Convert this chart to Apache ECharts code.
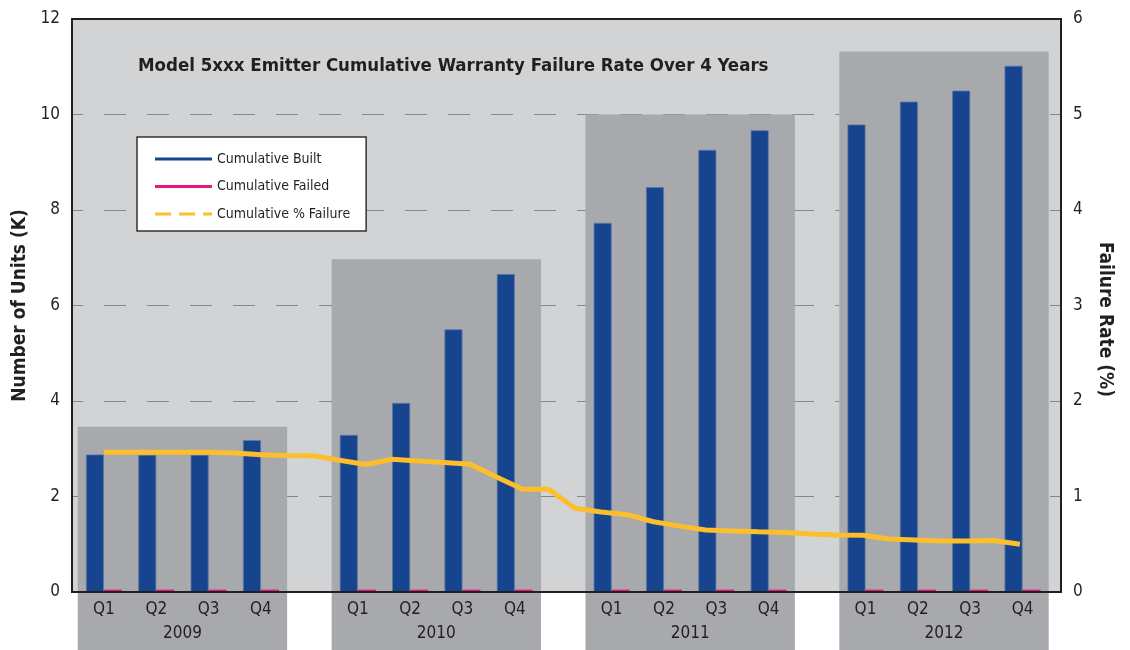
<!DOCTYPE html>
<html lang="en">
<head>
    <meta charset="UTF-8"/>
    <title>Emitter Warranty Failure Rate</title>
    <script src="https://cdn.jsdelivr.net/npm/echarts@6/dist/echarts.min.js"></script>
    <style>
        body { margin: 0; background: #fff; }
    </style>
</head>
<body>
<div id="main" style="width: 1130px; height: 650px;"></div>
<script type="text/javascript">
    // values
    var quarters = ['Q1', 'Q2', 'Q3', 'Q4'];
    var years = ['2009', '2010', '2011', '2012'];
    var built = [2.88, 2.87, 2.87, 3.18, 3.29, 3.96, 5.50, 6.66, 7.73, 8.48, 9.26, 9.67, 9.79, 10.27, 10.50, 11.02];
    var failed = [0.05, 0.05, 0.05, 0.05, 0.05, 0.05, 0.05, 0.05, 0.05, 0.05, 0.05, 0.05, 0.05, 0.05, 0.05, 0.05];
    var yearBoxTop = [3.46, 6.97, 10.0, 11.32];
    var failurePct = [1.463, 1.463, 1.463, 1.463, 1.463, 1.455, 1.437, 1.43, 1.427, 1.38, 1.335, 1.39,
        1.372, 1.356, 1.337, 1.205, 1.075, 1.075, 0.876, 0.838, 0.81, 0.736, 0.69, 0.65,
        0.64, 0.63, 0.623, 0.607, 0.597, 0.595, 0.555, 0.545, 0.535, 0.535, 0.54, 0.50];

    var FONT = "'Liberation Sans Narrow', 'DejaVu Sans Condensed', sans-serif";
    var TEXT = '#231f20';
    var BLUE = '#16448e';
    var PINK = '#e8197d';
    var YELLOW = '#fdbe2c';

    // x axis is in half-quarter steps (the failure line is sampled at that rate)
    var YEAR_STEP = 9.7, QUARTER_STEP = 2;
    function slotX(y, q) { return y * YEAR_STEP + q * QUARTER_STEP; }

    var builtData = [], failedData = [];
    for (var i = 0; i < built.length; i++) {
        var x = slotX(Math.floor(i / 4), i % 4);
        builtData.push([x, built[i]]);
        failedData.push([x, failed[i]]);
    }
    var boxData = years.map(function (yr, y) {
        return [slotX(y, 0) - 1, slotX(y, 3) + 1, yearBoxTop[y], y];
    });
    var lineData = failurePct.map(function (v, k) { return [k, v]; });

    function renderYearBox(params, api) {
        var y = api.value(3);
        var p0 = api.coord([api.value(0), api.value(2)]);
        var p1 = api.coord([api.value(1), 0]);
        var children = [{
            type: 'rect',
            shape: { x: p0[0], y: p0[1], width: p1[0] - p0[0], height: p1[1] - p0[1] + 60 },
            style: { fill: '#a7a9ac' }
        }];
        quarters.forEach(function (q, j) {
            var c = api.coord([slotX(y, j), 0]);
            children.push({
                type: 'text', x: c[0], y: c[1] + 18,
                style: { text: q, fill: TEXT, font: '17px ' + FONT, align: 'center', verticalAlign: 'middle' }
            });
        });
        children.push({
            type: 'text', x: (p0[0] + p1[0]) / 2, y: p1[1] + 42,
            style: { text: years[y], fill: TEXT, font: '17px ' + FONT, align: 'center', verticalAlign: 'middle' }
        });
        return { type: 'group', children: children };
    }

    var myChart = echarts.init(document.getElementById('main'));

    option = {
        animation: false,
        textStyle: { fontFamily: FONT },
        title: {
            text: 'Model 5xxx Emitter Cumulative Warranty Failure Rate Over 4 Years',
            left: 133,
            top: 52,
            textStyle: { fontSize: 18.5, fontWeight: 'bold', color: TEXT, fontFamily: FONT }
        },
        legend: {
            orient: 'vertical',
            left: 137,
            top: 137,
            backgroundColor: '#fff',
            borderColor: '#333',
            borderWidth: 1.5,
            padding: [15, 16, 10, 18],
            itemWidth: 57,
            itemHeight: 3,
            itemGap: 13.5,
            itemStyle: { borderWidth: 0 },
            selectedMode: false,
            textStyle: { fontSize: 14, color: TEXT, fontFamily: FONT },
            data: [
                { name: 'Cumulative Built', icon: 'rect' },
                { name: 'Cumulative Failed', icon: 'rect' },
                { name: 'Cumulative % Failure', icon: 'path://M0,0H16V3H0Z M24,0H40V3H24Z M48,0H57V3H48Z' }
            ]
        },
        grid: {
            show: true,
            left: 72,
            right: 69,
            top: 19,
            bottom: 58,
            backgroundColor: '#d1d3d4',
            borderColor: '#231f20',
            borderWidth: 2
        },
        xAxis: {
            type: 'value',
            min: -1.22,
            max: 36.57,
            z: 5,
            axisLine: { show: true, lineStyle: { color: '#231f20', width: 2 } },
            axisTick: { show: false },
            axisLabel: { show: false },
            splitLine: { show: false }
        },
        yAxis: [
            {
                type: 'value',
                min: 0,
                max: 12,
                interval: 2,
                name: 'Number of Units (K)',
                nameLocation: 'middle',
                nameGap: 38,
                nameTextStyle: { fontSize: 19, fontWeight: 'bold', color: TEXT, fontFamily: FONT },
                axisLine: { show: true, onZero: false, lineStyle: { color: '#231f20', width: 2 } },
                axisTick: { show: false },
                axisLabel: { fontSize: 17, color: TEXT, margin: 12, fontFamily: FONT },
                splitLine: {
                    show: true,
                    showMinLine: false,
                    showMaxLine: false,
                    lineStyle: { color: '#858789', width: 1, type: [22, 21], dashOffset: 11 }
                }
            },
            {
                type: 'value',
                min: 0,
                max: 6,
                interval: 1,
                position: 'right',
                name: 'Failure Rate (%)',
                nameLocation: 'middle',
                nameRotate: -90,
                nameGap: 34,
                nameTextStyle: { fontSize: 19, fontWeight: 'bold', color: TEXT, fontFamily: FONT, padding: [0, 0, 0, 28] },
                axisLine: { show: true, onZero: false, lineStyle: { color: '#231f20', width: 2 } },
                axisTick: { show: false },
                axisLabel: { fontSize: 17, color: TEXT, margin: 12, fontFamily: FONT },
                splitLine: { show: false }
            }
        ],
        series: [
            {
                name: 'year boxes',
                type: 'custom',
                renderItem: renderYearBox,
                encode: { x: [0, 1], y: 2 },
                data: boxData,
                silent: true,
                clip: false
            },
            {
                name: 'Cumulative Built',
                type: 'bar',
                data: builtData,
                barWidth: 18,
                barGap: '0%',
                itemStyle: { color: BLUE, borderColor: '#5d77a6', borderWidth: 0.8 }
            },
            {
                name: 'Cumulative Failed',
                type: 'bar',
                data: failedData,
                barWidth: 18,
                barGap: '0%',
                itemStyle: { color: PINK }
            },
            {
                name: 'Cumulative % Failure',
                type: 'line',
                yAxisIndex: 1,
                data: lineData,
                symbol: 'none',
                itemStyle: { color: YELLOW },
                lineStyle: { color: YELLOW, width: 5 }
            }
        ]
    };

    myChart.setOption(option);
</script>
</body>
</html>
